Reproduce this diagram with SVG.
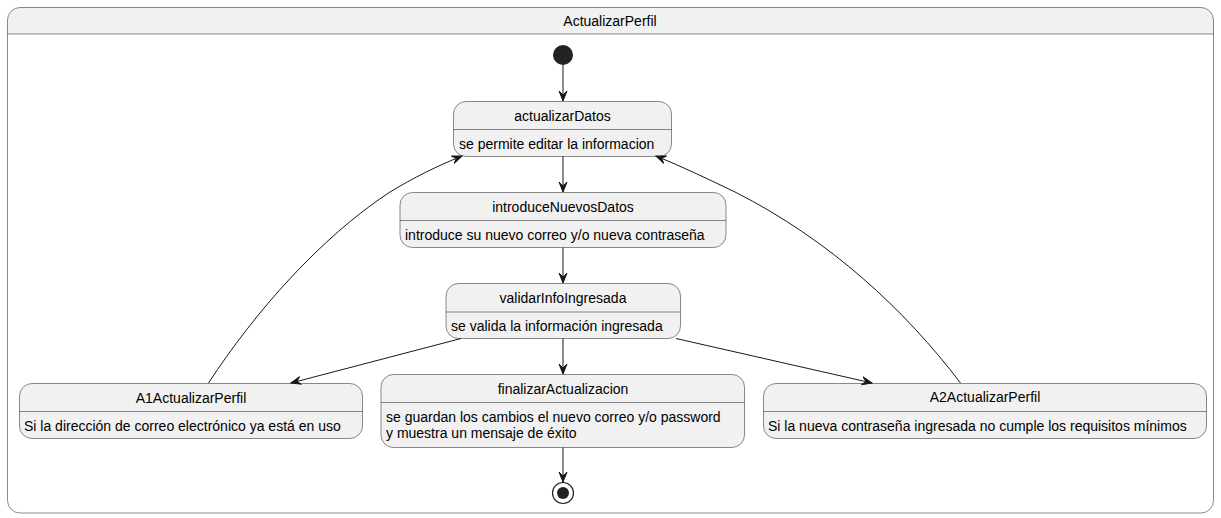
<svg xmlns="http://www.w3.org/2000/svg" width="1221" height="518" viewBox="0 0 1221 518">
<style>
.box{fill:#F1F1F1;stroke:#181818;stroke-width:0.5}
.sep{stroke:#181818;stroke-width:0.5}
.t{font-family:"Liberation Sans",Arial,sans-serif;font-size:14px;fill:#000000}
.c{text-anchor:middle}
.edge{fill:none;stroke:#181818;stroke-width:1}
.ah{fill:#181818;stroke:#181818;stroke-width:1}
</style>
<defs>
<marker id="arr" viewBox="0 0 12 10" refX="10" refY="5" markerWidth="12" markerHeight="10" markerUnits="userSpaceOnUse" orient="auto">
<path d="M0,1 L10,5 L0,9 L4,5 Z" class="ah"/>
</marker>
</defs>
<g id="ActualizarPerfil">
<path d="M20,7.5 H1201 A12.5,12.5 0 0 1 1213.5,20 V34 H7.5 V20 A12.5,12.5 0 0 1 20,7.5 Z" fill="#F1F1F1"/>
<rect x="7.5" y="7.5" width="1206" height="505.5" rx="12.5" fill="none" stroke="#181818" stroke-width="0.5"/>
<line x1="7.5" y1="34" x2="1213.5" y2="34" class="sep"/>
<text x="610" y="26" class="t c">ActualizarPerfil</text>
</g>
<g id="start">
<circle cx="563" cy="55" r="10" fill="#222222"/>
</g>
<g id="actualizarDatos">
<rect x="453.5" y="101.5" width="218" height="55" rx="12.5" class="box"/>
<line x1="453.5" y1="129.5" x2="671.5" y2="129.5" class="sep"/>
<text x="562.5" y="121" class="t c">actualizarDatos</text>
<text x="459" y="149" class="t">se permite editar la informacion</text>
</g>
<g id="introduceNuevosDatos">
<rect x="400" y="192.5" width="326" height="55" rx="12.5" class="box"/>
<line x1="400" y1="220.5" x2="726" y2="220.5" class="sep"/>
<text x="563" y="212" class="t c">introduceNuevosDatos</text>
<text x="405" y="239.5" class="t">introduce su nuevo correo y/o nueva contraseña</text>
</g>
<g id="validarInfoIngresada">
<rect x="446" y="283.5" width="234.5" height="55" rx="12.5" class="box"/>
<line x1="446" y1="312" x2="680.5" y2="312" class="sep"/>
<text x="563" y="303" class="t c">validarInfoIngresada</text>
<text x="451" y="330.5" class="t">se valida la información ingresada</text>
</g>
<g id="finalizarActualizacion">
<rect x="381" y="374.5" width="363.5" height="73" rx="12.5" class="box"/>
<line x1="381" y1="402.5" x2="744.5" y2="402.5" class="sep"/>
<text x="563" y="394" class="t c">finalizarActualizacion</text>
<text x="386" y="421.5" class="t">se guardan los cambios el nuevo correo y/o password</text>
<text x="386" y="438" class="t">y muestra un mensaje de éxito</text>
</g>
<g id="A1ActualizarPerfil">
<rect x="19.5" y="383.5" width="343" height="55" rx="12.5" class="box"/>
<line x1="19.5" y1="411.5" x2="362.5" y2="411.5" class="sep"/>
<text x="191" y="403" class="t c">A1ActualizarPerfil</text>
<text x="24" y="431" class="t">Si la dirección de correo electrónico ya está en uso</text>
</g>
<g id="A2ActualizarPerfil">
<rect x="763.5" y="383.5" width="443" height="55" rx="12.5" class="box"/>
<line x1="763.5" y1="411.5" x2="1206.5" y2="411.5" class="sep"/>
<text x="985" y="402" class="t c">A2ActualizarPerfil</text>
<text x="768" y="430.5" class="t">Si la nueva contraseña ingresada no cumple los requisitos mínimos</text>
</g>
<g id="end">
<circle cx="563" cy="493" r="10.5" fill="none" stroke="#222222" stroke-width="1.2"/>
<circle cx="563" cy="493" r="6" fill="#222222"/>
</g>
<g id="connectors">
<path d="M563,65 L563,101" class="edge" marker-end="url(#arr)"/>
<path d="M563,156.5 L563,192" class="edge" marker-end="url(#arr)"/>
<path d="M563,247.5 L563,283" class="edge" marker-end="url(#arr)"/>
<path d="M563,338.5 L563,374" class="edge" marker-end="url(#arr)"/>
<path d="M563,447.5 L563,482" class="edge" marker-end="url(#arr)"/>
<path d="M461,338.5 L291,383" class="edge" marker-end="url(#arr)"/>
<path d="M676,338.5 L872,383" class="edge" marker-end="url(#arr)"/>
<path d="M208.5,383 C255,312 320,238 390,192 C413,178 437,166 462,156" class="edge" marker-end="url(#arr)"/>
<path d="M960.5,383 C905,310 830,240 735,192 C710,180 683,167 656,156" class="edge" marker-end="url(#arr)"/>
</g>
</svg>
